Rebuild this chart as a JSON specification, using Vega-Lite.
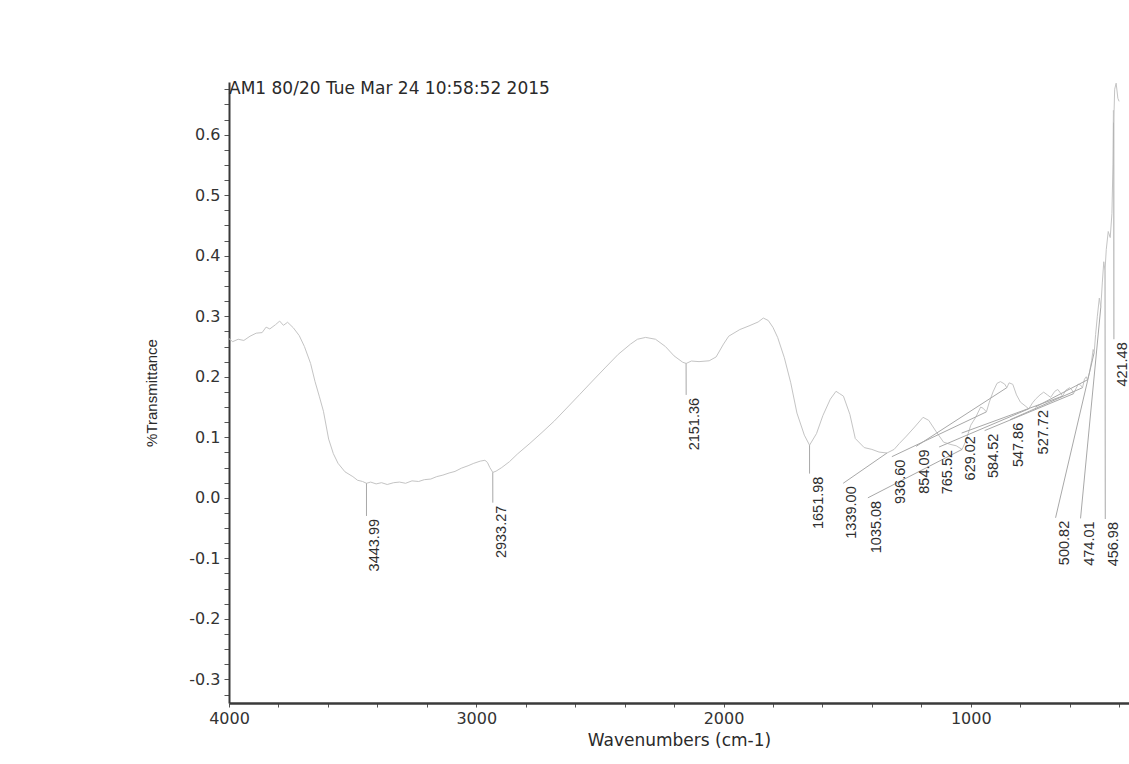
{
  "$schema": "https://vega.github.io/schema/vega-lite/v6.json",
  "width": 900,
  "height": 621,
  "autosize": {"type": "none"},
  "padding": {"left": 229, "top": 82, "right": 0, "bottom": 61},
  "background": "white",
  "config": {"view": {"stroke": null}},
  "title": {
    "text": "AM1 80/20 Tue Mar 24 10:58:52 2015",
    "anchor": "start",
    "frame": "group",
    "font": "DejaVu Sans",
    "fontSize": 17,
    "fontWeight": "normal",
    "color": "#2a2a2a",
    "baseline": "alphabetic",
    "offset": -30
  },
  "datasets": {
    "spectrum": [
      {"wn": 4000, "t": 0.263}, {"wn": 3985, "t": 0.258}, {"wn": 3963, "t": 0.262}, {"wn": 3940, "t": 0.26},
      {"wn": 3915, "t": 0.267}, {"wn": 3890, "t": 0.272}, {"wn": 3866, "t": 0.273}, {"wn": 3850, "t": 0.282},
      {"wn": 3835, "t": 0.279}, {"wn": 3812, "t": 0.286}, {"wn": 3795, "t": 0.292}, {"wn": 3780, "t": 0.285},
      {"wn": 3763, "t": 0.29}, {"wn": 3740, "t": 0.281}, {"wn": 3716, "t": 0.268}, {"wn": 3695, "t": 0.25},
      {"wn": 3670, "t": 0.222}, {"wn": 3652, "t": 0.192}, {"wn": 3635, "t": 0.168}, {"wn": 3618, "t": 0.143},
      {"wn": 3597, "t": 0.097}, {"wn": 3578, "t": 0.073}, {"wn": 3559, "t": 0.057}, {"wn": 3531, "t": 0.043},
      {"wn": 3499, "t": 0.035}, {"wn": 3480, "t": 0.029}, {"wn": 3460, "t": 0.027}, {"wn": 3444, "t": 0.024},
      {"wn": 3427, "t": 0.026}, {"wn": 3405, "t": 0.023}, {"wn": 3383, "t": 0.025}, {"wn": 3360, "t": 0.022},
      {"wn": 3334, "t": 0.025}, {"wn": 3310, "t": 0.026}, {"wn": 3286, "t": 0.024}, {"wn": 3260, "t": 0.028},
      {"wn": 3233, "t": 0.027}, {"wn": 3210, "t": 0.03}, {"wn": 3184, "t": 0.031}, {"wn": 3160, "t": 0.035},
      {"wn": 3135, "t": 0.0375}, {"wn": 3110, "t": 0.041}, {"wn": 3086, "t": 0.0436}, {"wn": 3060, "t": 0.049},
      {"wn": 3033, "t": 0.053}, {"wn": 3010, "t": 0.057}, {"wn": 2984, "t": 0.0606}, {"wn": 2965, "t": 0.062},
      {"wn": 2955, "t": 0.0586}, {"wn": 2945, "t": 0.05}, {"wn": 2933, "t": 0.042}, {"wn": 2920, "t": 0.044},
      {"wn": 2897, "t": 0.05}, {"wn": 2866, "t": 0.0596}, {"wn": 2833, "t": 0.0725}, {"wn": 2783, "t": 0.09},
      {"wn": 2734, "t": 0.108}, {"wn": 2684, "t": 0.127}, {"wn": 2630, "t": 0.15}, {"wn": 2581, "t": 0.171},
      {"wn": 2530, "t": 0.193}, {"wn": 2476, "t": 0.216}, {"wn": 2426, "t": 0.237}, {"wn": 2376, "t": 0.254},
      {"wn": 2348, "t": 0.262}, {"wn": 2315, "t": 0.265}, {"wn": 2275, "t": 0.262}, {"wn": 2235, "t": 0.25},
      {"wn": 2200, "t": 0.2345}, {"wn": 2165, "t": 0.224}, {"wn": 2151, "t": 0.222}, {"wn": 2130, "t": 0.226},
      {"wn": 2099, "t": 0.225}, {"wn": 2058, "t": 0.2264}, {"wn": 2030, "t": 0.2327}, {"wn": 2000, "t": 0.254},
      {"wn": 1979, "t": 0.267}, {"wn": 1934, "t": 0.278}, {"wn": 1897, "t": 0.284}, {"wn": 1860, "t": 0.2905},
      {"wn": 1839, "t": 0.297}, {"wn": 1819, "t": 0.293}, {"wn": 1800, "t": 0.2816}, {"wn": 1781, "t": 0.265},
      {"wn": 1754, "t": 0.2315}, {"wn": 1728, "t": 0.19}, {"wn": 1703, "t": 0.14}, {"wn": 1673, "t": 0.1035},
      {"wn": 1652, "t": 0.087}, {"wn": 1624, "t": 0.106}, {"wn": 1598, "t": 0.136}, {"wn": 1568, "t": 0.163},
      {"wn": 1545, "t": 0.176}, {"wn": 1530, "t": 0.172}, {"wn": 1515, "t": 0.168}, {"wn": 1489, "t": 0.138},
      {"wn": 1467, "t": 0.098}, {"wn": 1431, "t": 0.083}, {"wn": 1400, "t": 0.08}, {"wn": 1371, "t": 0.0756},
      {"wn": 1339, "t": 0.074}, {"wn": 1310, "t": 0.08}, {"wn": 1289, "t": 0.0897}, {"wn": 1260, "t": 0.102},
      {"wn": 1227, "t": 0.117}, {"wn": 1193, "t": 0.133}, {"wn": 1170, "t": 0.128}, {"wn": 1141, "t": 0.11},
      {"wn": 1110, "t": 0.092}, {"wn": 1080, "t": 0.088}, {"wn": 1059, "t": 0.086}, {"wn": 1035, "t": 0.08},
      {"wn": 1019, "t": 0.095}, {"wn": 1000, "t": 0.12}, {"wn": 980, "t": 0.133}, {"wn": 960, "t": 0.15},
      {"wn": 950, "t": 0.148}, {"wn": 936.6, "t": 0.142}, {"wn": 925, "t": 0.158}, {"wn": 910, "t": 0.175},
      {"wn": 894, "t": 0.189}, {"wn": 880, "t": 0.192}, {"wn": 863, "t": 0.188}, {"wn": 854, "t": 0.182},
      {"wn": 845, "t": 0.19}, {"wn": 830, "t": 0.1875}, {"wn": 815, "t": 0.17}, {"wn": 799, "t": 0.158},
      {"wn": 780, "t": 0.152}, {"wn": 765.5, "t": 0.147}, {"wn": 750, "t": 0.157}, {"wn": 738, "t": 0.163},
      {"wn": 720, "t": 0.17}, {"wn": 705, "t": 0.1746}, {"wn": 690, "t": 0.17}, {"wn": 677, "t": 0.166},
      {"wn": 660, "t": 0.176}, {"wn": 648, "t": 0.179}, {"wn": 635, "t": 0.172}, {"wn": 629, "t": 0.168},
      {"wn": 615, "t": 0.178}, {"wn": 600, "t": 0.182}, {"wn": 590, "t": 0.178}, {"wn": 584.5, "t": 0.172},
      {"wn": 575, "t": 0.18}, {"wn": 565, "t": 0.188}, {"wn": 555, "t": 0.186}, {"wn": 548, "t": 0.182},
      {"wn": 540, "t": 0.196}, {"wn": 533, "t": 0.2}, {"wn": 527.7, "t": 0.195}, {"wn": 520, "t": 0.207},
      {"wn": 511, "t": 0.227}, {"wn": 505, "t": 0.245}, {"wn": 500.8, "t": 0.24}, {"wn": 495, "t": 0.27},
      {"wn": 488, "t": 0.3}, {"wn": 480, "t": 0.33}, {"wn": 474, "t": 0.315}, {"wn": 468, "t": 0.355},
      {"wn": 462, "t": 0.39}, {"wn": 457, "t": 0.375}, {"wn": 452, "t": 0.41}, {"wn": 444, "t": 0.44},
      {"wn": 436, "t": 0.43}, {"wn": 429, "t": 0.47}, {"wn": 425, "t": 0.55}, {"wn": 423, "t": 0.64},
      {"wn": 421.5, "t": 0.62}, {"wn": 418, "t": 0.675}, {"wn": 412, "t": 0.685}, {"wn": 405, "t": 0.66},
      {"wn": 400, "t": 0.655}
    ],
    "peaks": [
      {"label": "3443.99", "wn": 3443.99, "t": 0.024, "labelWn": 3444, "labelT": -0.03},
      {"label": "2933.27", "wn": 2933.27, "t": 0.042, "labelWn": 2933, "labelT": -0.008},
      {"label": "2151.36", "wn": 2151.36, "t": 0.222, "labelWn": 2151, "labelT": 0.17},
      {"label": "1651.98", "wn": 1651.98, "t": 0.087, "labelWn": 1652, "labelT": 0.04},
      {"label": "1339.00", "wn": 1339.0, "t": 0.074, "labelWn": 1516, "labelT": 0.024},
      {"label": "1035.08", "wn": 1035.08, "t": 0.08, "labelWn": 1416, "labelT": 0.0},
      {"label": "936.60", "wn": 936.6, "t": 0.142, "labelWn": 1319, "labelT": 0.068},
      {"label": "854.09", "wn": 854.09, "t": 0.182, "labelWn": 1221, "labelT": 0.085},
      {"label": "765.52", "wn": 765.52, "t": 0.147, "labelWn": 1128, "labelT": 0.084},
      {"label": "629.02", "wn": 629.02, "t": 0.168, "labelWn": 1037, "labelT": 0.107},
      {"label": "584.52", "wn": 584.52, "t": 0.172, "labelWn": 944, "labelT": 0.111},
      {"label": "547.86", "wn": 547.86, "t": 0.182, "labelWn": 841, "labelT": 0.129},
      {"label": "527.72", "wn": 527.72, "t": 0.195, "labelWn": 739, "labelT": 0.15},
      {"label": "500.82", "wn": 500.82, "t": 0.24, "labelWn": 657, "labelT": -0.033},
      {"label": "474.01", "wn": 474.01, "t": 0.315, "labelWn": 556, "labelT": -0.034},
      {"label": "456.98", "wn": 456.98, "t": 0.375, "labelWn": 456, "labelT": -0.035},
      {"label": "421.48", "wn": 421.48, "t": 0.62, "labelWn": 421, "labelT": 0.262}
    ]
  },
  "layer": [
    {
      "data": {"name": "spectrum"},
      "mark": {"type": "line", "color": "#c4c4c4", "strokeWidth": 1, "clip": true},
      "encoding": {
        "x": {
          "field": "wn", "type": "quantitative",
          "scale": {"domain": [4000, 360], "nice": false, "zero": false},
          "axis": {
            "title": "Wavenumbers (cm-1)",
            "values": [4000, 3800, 3600, 3400, 3200, 3000, 2800, 2600, 2400, 2200, 2000, 1800, 1600, 1400, 1200, 1000, 800, 600, 400],
            "tickCount": 200,
            "labelExpr": "datum.value % 1000 == 0 ? format(datum.value, 'd') : ''",
            "labelOverlap": false,
            "labelFlush": false,
            "labelFont": "DejaVu Sans", "labelFontSize": 16, "labelColor": "#333",
            "labelPadding": 3,
            "tickSize": 4, "tickColor": "#555", "tickWidth": 1,
            "domainColor": "#3a3a3a", "domainWidth": 2.5,
            "grid": false,
            "titleFont": "DejaVu Sans", "titleFontSize": 17, "titleFontWeight": "normal", "titleColor": "#2a2a2a",
            "titlePadding": 6
          }
        },
        "y": {
          "field": "t", "type": "quantitative",
          "scale": {"domain": [-0.339, 0.687], "nice": false, "zero": false},
          "axis": {
            "title": "%Transmittance",
            "values": [-0.325, -0.3, -0.275, -0.25, -0.225, -0.2, -0.175, -0.15, -0.125, -0.1, -0.075, -0.05, -0.025, 0, 0.025, 0.05, 0.075, 0.1, 0.125, 0.15, 0.175, 0.2, 0.225, 0.25, 0.275, 0.3, 0.325, 0.35, 0.375, 0.4, 0.425, 0.45, 0.475, 0.5, 0.525, 0.55, 0.575, 0.6, 0.625, 0.65, 0.675],
            "tickCount": 200,
            "labelExpr": "slice(format(datum.value, '.3f'), -2) == '00' ? replace(format(datum.value, '.1f'), '\u2212', '-') : ''",
            "labelOverlap": false,
            "labelFlush": false,
            "labelFont": "DejaVu Sans", "labelFontSize": 16, "labelColor": "#333",
            "labelPadding": 4,
            "tickSize": 5, "tickColor": "#555", "tickWidth": 1,
            "domainColor": "#3a3a3a", "domainWidth": 2,
            "grid": false,
            "titleFont": "Liberation Sans", "titleFontSize": 15, "titleFontWeight": "normal", "titleColor": "#2a2a2a",
            "titlePadding": 29
          }
        }
      }
    },
    {
      "data": {"name": "peaks"},
      "mark": {"type": "rule", "color": "#a8a8a8", "strokeWidth": 1},
      "encoding": {
        "x": {"field": "wn", "type": "quantitative"},
        "y": {"field": "t", "type": "quantitative"},
        "x2": {"field": "labelWn"},
        "y2": {"field": "labelT"}
      }
    },
    {
      "data": {"name": "peaks"},
      "mark": {"type": "text", "angle": 270, "align": "right", "baseline": "top", "dx": -3, "dy": 2, "font": "Liberation Sans", "fontSize": 14.5, "color": "#2e2e2e"},
      "encoding": {
        "x": {"field": "labelWn", "type": "quantitative"},
        "y": {"field": "labelT", "type": "quantitative"},
        "text": {"field": "label"}
      }
    }
  ]
}
